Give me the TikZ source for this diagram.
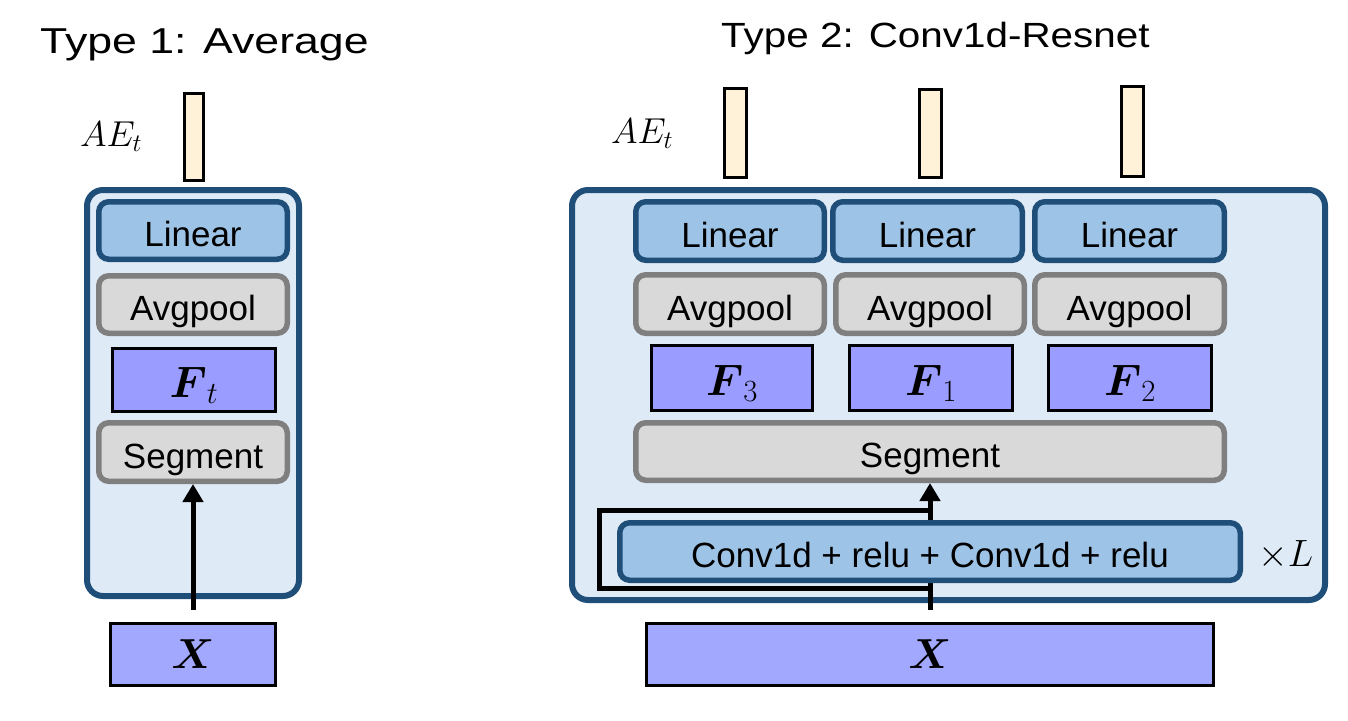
\RequirePackage{fix-cm}
\documentclass[tikz,border=0pt]{standalone}
\usepackage{amsmath}
\usepackage{graphicx}
\usepackage{fontspec}
\setmainfont{Liberation Sans}
\usetikzlibrary{arrows.meta}
\definecolor{dblue}{HTML}{1F4E79}
\definecolor{pblue}{HTML}{DEEAF6}
\definecolor{lblue}{HTML}{9DC3E6}
\definecolor{lgray}{HTML}{D9D9D9}
\definecolor{mgray}{HTML}{7F7F7F}
\definecolor{fcol}{HTML}{9A9DFF}
\definecolor{xcol}{HTML}{A3A8FF}
\definecolor{cream}{HTML}{FFF2D9}
\newcommand\drawblk[8]{\node[#1, inner sep=0pt, minimum width={#5-#3-#7}, minimum height={#6-#4-#7}] (#2) at ({(#3+#5)/2},{(#4+#6)/2}) {#8};}
\begin{document}
\begin{tikzpicture}[x=1pt,y=-1pt,
  outerbox/.style={draw=dblue, fill=pblue, line width=6pt, rounded corners=16pt},
  boxtext/.style={font=\fontsize{35}{40}\selectfont, text height=36pt, text depth=4pt},
  linbox/.style={boxtext, draw=dblue, fill=lblue, line width=5.5pt, rounded corners=10pt},
  graybox/.style={boxtext, draw=mgray, fill=lgray, line width=5.5pt, rounded corners=10pt},
  featbox/.style={font=\fontsize{44}{48}\selectfont, text height=38pt, text depth=4pt, draw=black, fill=fcol, line width=3pt},
  inbox/.style={font=\fontsize{42}{46}\selectfont, text height=34pt, text depth=6pt, draw=black, fill=xcol, line width=3pt},
  barbox/.style={draw=black, fill=cream, line width=3pt},
  ttl/.style={font=\fontsize{36}{40}\selectfont, inner sep=0pt},
  mth/.style={font=\fontsize{36}{40}\selectfont, inner sep=0pt},
  arr/.style={line width=5pt, -{Triangle[length=18pt,width=20pt]}},
  skipline/.style={line width=5pt, line join=miter}
]
\useasboundingbox (0,0) rectangle (1348,720);
% ---------------- Type 1 ----------------
\node[ttl, anchor=base west] (t1) at (40,53) {\scalebox{1.24}[1]{Type 1: Average}};
\node[mth, anchor=base west] (ae1) at (80,146) {$AE_t$};
\drawblk{barbox}{b0}{183}{92}{205}{182}{3}{}
\drawblk{outerbox}{oL}{84}{187}{302}{599}{6}{}
\drawblk{linbox}{linL}{96}{199}{290}{262}{5.5}{Linear}
\drawblk{graybox}{avgL}{96}{273}{290}{336}{5.5}{Avgpool}
\drawblk{featbox}{ftL}{111}{347}{277}{413}{3}{$\boldsymbol{F}_t$}
\drawblk{graybox}{segL}{96}{420}{290}{484}{5.5}{Segment}
\drawblk{inbox}{XL}{109}{622}{277}{687}{3}{$\boldsymbol{X}$}
\draw[arr] ([yshift=12pt]XL.north) -- (segL.south);
% ---------------- Type 2 ----------------
\node[ttl, font=\fontsize{35}{40}\selectfont, anchor=base west] (t2) at (721,47) {\scalebox{1.155}[1]{Type 2: Conv1d-Resnet}};
\node[mth, anchor=base west] (ae2) at (611,143) {$AE_t$};
\drawblk{barbox}{b1}{723}{87}{748}{179}{3}{}
\drawblk{barbox}{b2}{918}{88}{943}{179}{3}{}
\drawblk{barbox}{b3}{1120}{85}{1145}{178}{3}{}
\drawblk{outerbox}{oR}{569}{187}{1328}{603}{6}{}
\drawblk{linbox}{lin1}{633}{199}{827}{263}{5.5}{Linear}
\drawblk{linbox}{lin2}{830}{199}{1025}{263}{5.5}{Linear}
\drawblk{linbox}{lin3}{1032}{199}{1227}{263}{5.5}{Linear}
\drawblk{graybox}{avg1}{633}{272}{827}{336}{5.5}{Avgpool}
\drawblk{graybox}{avg2}{833}{272}{1027}{336}{5.5}{Avgpool}
\drawblk{graybox}{avg3}{1032}{272}{1227}{336}{5.5}{Avgpool}
\drawblk{featbox}{f3}{650}{344}{814}{412}{3}{$\boldsymbol{F}_3$}
\drawblk{featbox}{f1}{848}{344}{1014}{412}{3}{$\boldsymbol{F}_1$}
\drawblk{featbox}{f2}{1047}{344}{1213}{412}{3}{$\boldsymbol{F}_2$}
\drawblk{graybox}{segR}{633}{420}{1227}{483}{5.5}{Segment}
\drawblk{inbox}{XR}{645}{622}{1215}{687}{3}{$\boldsymbol{X}$}
\coordinate (sk1) at (930,588);
\coordinate (sk2) at (599,588);
\coordinate (sk3) at (599,510);
\coordinate (sk4) at (930,510);
\draw[arr] ([yshift=12pt]XR.north) -- (segR.south);
\draw[skipline] (sk1) -- (sk2) -- (sk3) -- (sk4);
\drawblk{linbox}{conv}{617}{520}{1243}{583}{5.5}{Conv1d + relu + Conv1d + relu}
\node[mth, font=\fontsize{38}{42}\selectfont, anchor=base west] (xl) at (1258,566) {$\times L$};
\end{tikzpicture}
\end{document}
